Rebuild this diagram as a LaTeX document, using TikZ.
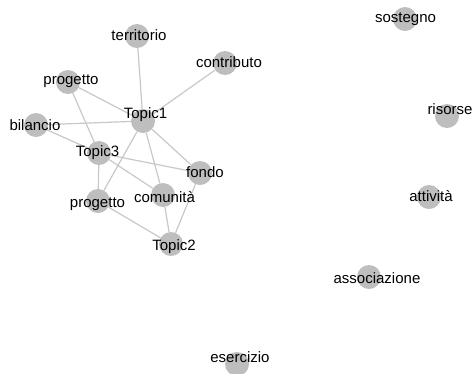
\documentclass[tikz,border=0pt]{standalone}
\usepackage{fontspec}
\setmainfont{Liberation Sans}
\usepackage{xcolor}
\usepackage{tikz}
\usetikzlibrary{backgrounds}
\definecolor{vertexgray}{HTML}{BEBEBE}
\definecolor{edgegray}{HTML}{C8C8C8}

\begin{document}
\begin{tikzpicture}[x=1pt, y=-1pt,
  vertex/.style={circle, fill=vertexgray, minimum size=24pt, inner sep=0pt},
  word/.style={font=\fontsize{15}{15}\selectfont, text=black, inner sep=0pt, anchor=base},
  edge/.style={draw=edgegray, line width=1.2pt}]
  \useasboundingbox (0,0) rectangle (474,373);

  % Connected words
  \node[vertex] (territorio) at (137,36) {};
  \node[vertex] (contributo) at (225,63) {};
  \node[vertex] (progettoA) at (68,82) {};
  \node[vertex] (topic1) at (143,121) {};
  \node[vertex] (bilancio) at (36,125) {};
  \node[vertex] (topic3) at (99,153) {};
  \node[vertex] (fondo) at (200,173) {};
  \node[vertex] (comunita) at (163,195) {};
  \node[vertex] (progettoB) at (98,201) {};
  \node[vertex] (topic2) at (171,244) {};

  % Isolated words
  \node[vertex] (sostegno) at (405,19) {};
  \node[vertex] (risorse) at (447,116) {};
  \node[vertex] (attivita) at (429,197) {};
  \node[vertex] (associazione) at (369,277) {};
  \node[vertex] (esercizio) at (237,364) {};

  % Labels
  \node[word] (territorio-t) at (139,40) {territorio};
  \node[word] (contributo-t) at (229,67) {contributo};
  \node[word] (progettoA-t) at (71,84) {progetto};
  \node[word] (topic1-t) at (145.5,118) {Topic1};
  \node[word] (bilancio-t) at (35,130) {bilancio};
  \node[word] (topic3-t) at (97.5,156.5) {Topic3};
  \node[word] (fondo-t) at (205,177) {fondo};
  \node[word] (comunita-t) at (164.5,202) {comunità};
  \node[word] (progettoB-t) at (97.5,207) {progetto};
  \node[word] (topic2-t) at (174,250) {Topic2};
  \node[word] (sostegno-t) at (405.5,22) {sostegno};
  \node[word] (risorse-t) at (450,114) {risorse};
  \node[word] (attivita-t) at (431,201) {attività};
  \node[word] (associazione-t) at (377,283) {associazione};
  \node[word] (esercizio-t) at (240,362) {esercizio};

  % Edges
  \begin{scope}[on background layer]
    \foreach \a/\b in {territorio/topic1, contributo/topic1, progettoA/topic1,
        progettoA/topic3, bilancio/topic1, bilancio/topic3, topic1/fondo,
        topic1/comunita, topic1/progettoB, topic3/fondo, topic3/comunita,
        topic3/progettoB, progettoB/topic2, comunita/topic2, fondo/topic2}
      \draw[edge] (\a) -- (\b);
  \end{scope}
\end{tikzpicture}
\end{document}
